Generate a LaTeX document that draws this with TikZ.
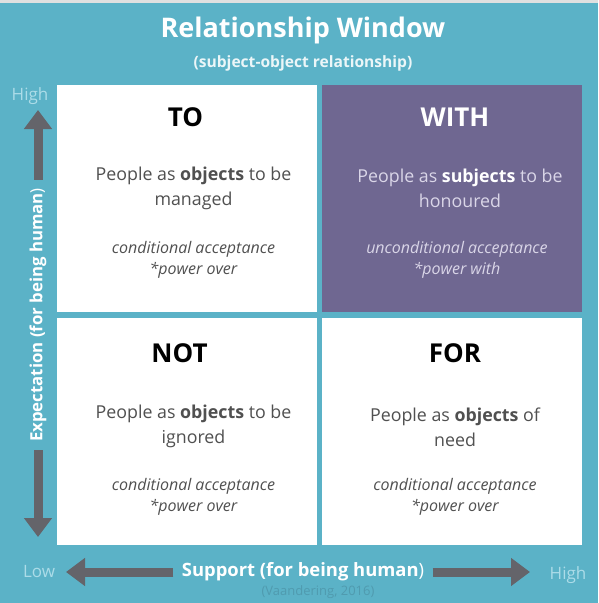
\documentclass[tikz,border=0pt]{standalone}
\usepackage{fontspec}
\setmainfont{Open Sans}
\usetikzlibrary{arrows.meta,positioning}
\definecolor{winbg}{RGB}{91,178,199}
\definecolor{winpurple}{RGB}{111,103,145}
\definecolor{bodygray}{RGB}{80,80,80}
\definecolor{lavtext}{RGB}{218,214,232}
\definecolor{arrowgray}{RGB}{100,100,106}
\definecolor{endcyan}{RGB}{172,220,232}
\definecolor{citecol}{RGB}{80,155,175}

\begin{document}
\begin{tikzpicture}[x=1pt,y=-1pt,
    quad/.style={minimum width=260pt, minimum height=227pt, inner sep=0pt, fill=white},
    head/.style={font=\fontsize{26}{30}\selectfont\bfseries, text=black},
    body/.style={font=\fontsize{17.8}{25}\selectfont, align=center, text=bodygray},
    note/.style={font=\fontsize{16}{21}\selectfont\itshape, align=center, text=bodygray},
    axis/.style={font=\fontsize{18.4}{20}\selectfont\bfseries, text=white},
    ends/.style={font=\fontsize{17}{20}\selectfont, text=endcyan},
    bigarrow/.style={line width=9pt, draw=arrowgray, shorten <=5pt,
        -{Triangle[width=27pt,length=19pt]}}]
    % background
    \fill[winbg] (0,0) rectangle (598,603);
    \fill[black!12] (0,0) rectangle (598,3);
    \useasboundingbox (0,0) rectangle (598,603);

    % title
    \node[font=\fontsize{27}{32}\selectfont\bfseries, text=white] (title) at (303,30) {Relationship Window};
    \node[font=\fontsize{15.6}{18}\selectfont\bfseries, text=white!88!winbg] (sub) at (303,63) {(subject-object relationship)};

    % the four windows
    \node[quad] (to) at (186.5,198.5) {};
    \node[quad, fill=winpurple] (with) at (452,198.5) {};
    \node[quad] (not) at (186.5,431.5) {};
    \node[quad] (for) at (452,431.5) {};

    \node[head] (tohead) at ([xshift=-1pt,yshift=-32pt]to.north) {TO};
    \node[body] (tobody) at ([xshift=7pt,yshift=-104pt]to.north) {People as \textbf{objects} to be\\managed};
    \node[note] (tonote) at ([xshift=7pt,yshift=-175pt]to.north) {conditional acceptance\\*power over};

    \node[head, text=white] (withhead) at ([xshift=3pt,yshift=-32pt]with.north) {WITH};
    \node[body, text=lavtext] (withbody) at ([xshift=8pt,yshift=-104pt]with.north) {People as \textbf{\color{white}subjects} to be\\honoured};
    \node[note, text=lavtext] (withnote) at ([xshift=5pt,yshift=-175pt]with.north) {unconditional acceptance\\*power with};

    \node[head] (nothead) at ([xshift=-7pt,yshift=-35pt]not.north) {NOT};
    \node[body] (notbody) at ([xshift=7pt,yshift=-109pt]not.north) {People as \textbf{objects} to be\\ignored};
    \node[note] (notnote) at ([xshift=7pt,yshift=-179pt]not.north) {conditional acceptance\\*power over};

    \node[head] (forhead) at ([xshift=3pt,yshift=-35pt]for.north) {FOR};
    \node[body] (forbody) at ([xshift=3pt,yshift=-109pt]for.north) {People as \textbf{objects} of\\need};
    \node[note] (fornote) at ([xshift=3pt,yshift=-179pt]for.north) {conditional acceptance\\*power over};

    % axes
    \node[axis, font=\fontsize{16.8}{20}\selectfont\bfseries, rotate=90] (expect) at (38,315) {Expectation (for being human{\mdseries)}};
    \node[axis] (support) at (303,572) {Support (for being human{\mdseries)}};
    \coordinate (ytop) at (38,110);
    \coordinate (ybot) at (38,537);
    \coordinate (xleft) at (66,572);
    \coordinate (xright) at (530,572);
    \draw[bigarrow] (expect.east) -- (ytop);
    \draw[bigarrow] (expect.west) -- (ybot);
    \draw[bigarrow] (support.west) -- (xleft);
    \draw[bigarrow] (support.east) -- (xright);

    \node[ends] (hiexp) at (30,96) {High};
    \node[ends] (low) at (39,572) {Low};
    \node[ends] (hisup) at (568,575) {High};
    \node[font=\fontsize{13}{15}\selectfont, text=citecol] (cite) at (318,592) {(Vaandering, 2016)};
\end{tikzpicture}
\end{document}
